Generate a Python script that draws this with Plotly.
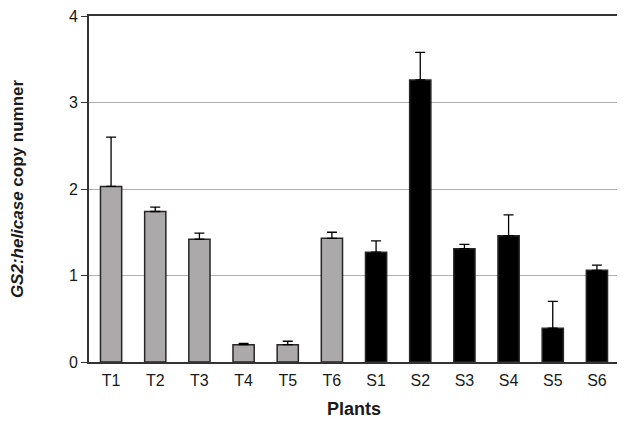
import plotly.graph_objects as go

plantas = ['T1', 'T2', 'T3', 'T4', 'T5', 'T6', 'S1', 'S2', 'S3', 'S4', 'S5', 'S6']
copias = [2.03, 1.74, 1.42, 0.20, 0.20, 1.43, 1.27, 3.26, 1.31, 1.46, 0.39, 1.06]
errores = [0.57, 0.05, 0.07, 0.015, 0.04, 0.07, 0.13, 0.32, 0.05, 0.24, 0.31, 0.06]
grupo = ['T'] * 6 + ['S'] * 6

C_GRIS = '#aba9a9'
C_NEGRO = '#000000'
colores = [C_GRIS if g == 'T' else C_NEGRO for g in grupo]

fig = go.Figure()
fig.add_trace(go.Bar(
    x=plantas, y=copias, width=0.48,
    marker=dict(color=colores, line=dict(color='#262626', width=1.5)),
    error_y=dict(type='data', array=errores, symmetric=False,
                 arrayminus=[0] * len(errores),
                 color='#000000', thickness=1.3, width=5),
    showlegend=False,
))

# la página pone 8px de margen al body, se compensa aquí
# (t un poco mayor para que el "4" no se corte arriba)
fig.update_layout(
    width=625, height=429,
    margin=dict(l=81, r=14, t=8, b=75, autoexpand=False),
    plot_bgcolor='white', paper_bgcolor='white',
    font=dict(family='Arial, Liberation Sans, sans-serif', size=16, color='#1a1a1a'),
    bargap=0.52,
)
fig.update_xaxes(
    automargin=False,
    showline=True, linecolor='#333333', linewidth=2, mirror=True,
    ticks='', tickfont=dict(size=16), ticklabelstandoff=3,
    title=dict(text='<b>Plants</b>', font=dict(size=18), standoff=14),
)
fig.update_yaxes(
    automargin=False, ticklabeloverflow='allow',
    range=[0, 4], dtick=1, showgrid=True, gridcolor='#b0b0b0', gridwidth=1,
    showline=True, linecolor='#333333', linewidth=2, mirror=True,
    ticks='outside', ticklen=6, tickcolor='#333333', tickfont=dict(size=16),
    zeroline=False,
    title=dict(text='<b><i>GS2:helicase</i> copy numner</b>', font=dict(size=17), standoff=48),
)

fig.write_html('out.html')
